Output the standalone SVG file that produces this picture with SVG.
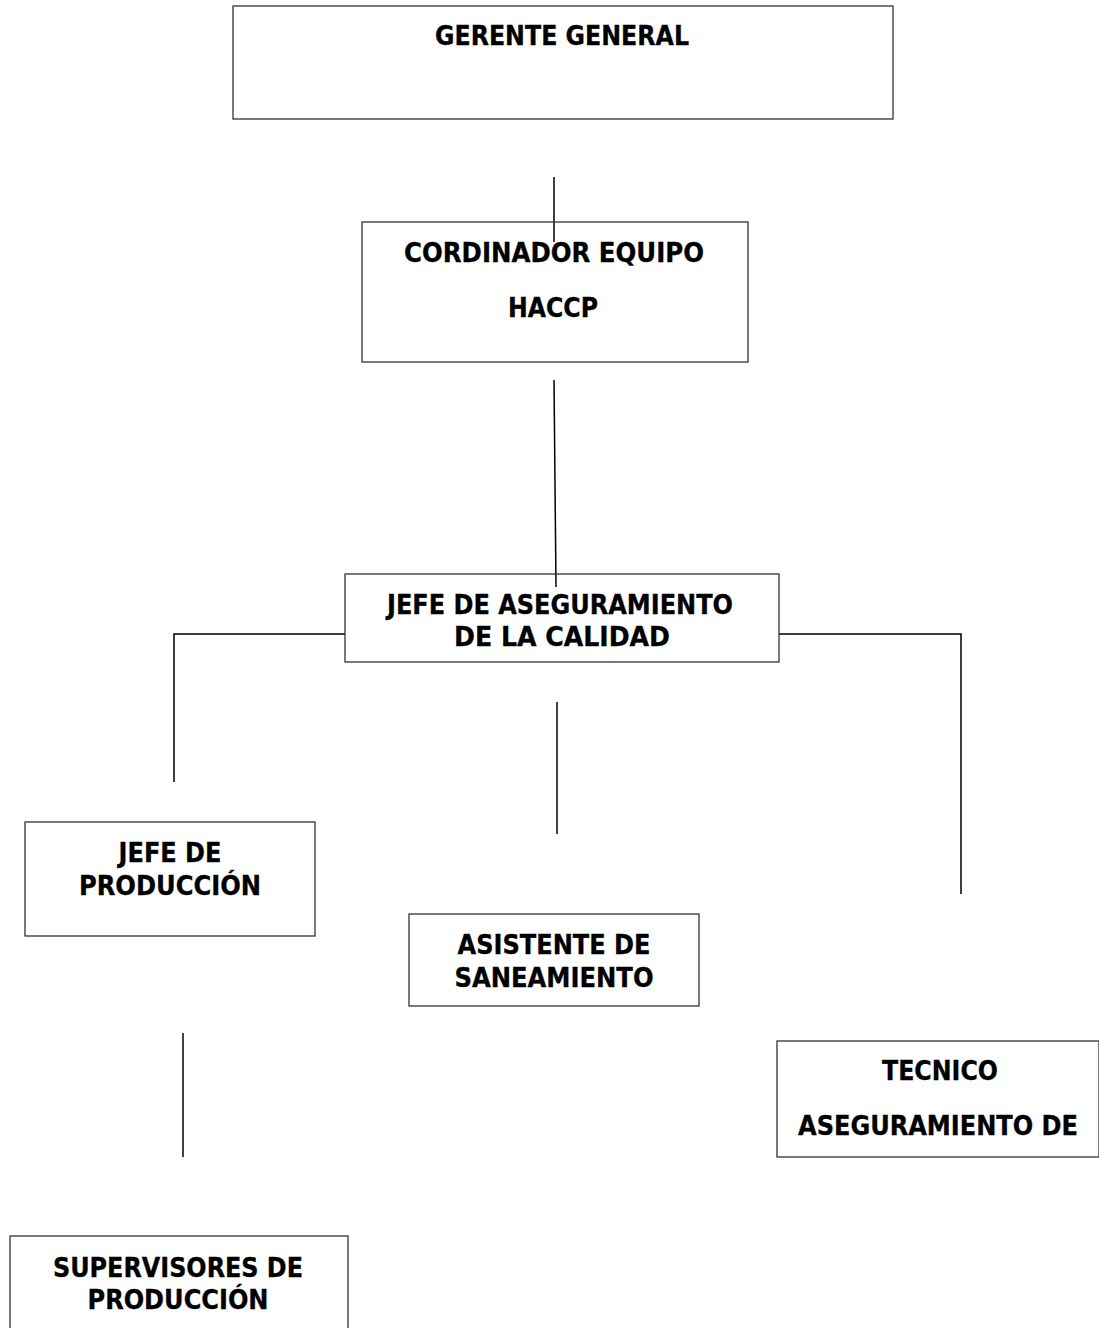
<svg xmlns="http://www.w3.org/2000/svg" width="1099" height="1328" viewBox="0 0 1099 1328">
  <style>
    .box { fill: #ffffff; stroke: #333333; stroke-width: 1.3; }
    .lbl { font-family: "DejaVu Sans", Verdana, sans-serif; font-weight: bold; font-size: 27px; fill: #000000; stroke: #000000; stroke-width: 0.35; text-anchor: middle; }
    .wire { fill: none; stroke: #000000; stroke-width: 1.5; }
  </style>
  <rect x="0" y="0" width="1099" height="1328" fill="#ffffff"/>

  <g id="connectors">
    <line class="wire" x1="554" y1="177" x2="554" y2="242"/>
    <line class="wire" x1="554" y1="380" x2="556" y2="587"/>
    <polyline class="wire" points="345,634 174,634 174,782"/>
    <polyline class="wire" points="779,634 961,634 961,894"/>
    <line class="wire" x1="557" y1="702" x2="557" y2="834"/>
    <line class="wire" x1="183" y1="1033" x2="183" y2="1157"/>
  </g>

  <g id="gerente-general">
    <rect class="box" x="233" y="6" width="660" height="113"/>
    <text class="lbl" x="562" y="45" textLength="254" lengthAdjust="spacingAndGlyphs">GERENTE GENERAL</text>
  </g>

  <g id="coordinador-haccp">
    <rect class="box" x="362" y="222" width="386" height="140" fill-opacity="0"/>
    <text class="lbl" x="554" y="262" textLength="300" lengthAdjust="spacingAndGlyphs">CORDINADOR EQUIPO</text>
    <text class="lbl" x="553" y="317" textLength="90" lengthAdjust="spacingAndGlyphs">HACCP</text>
  </g>

  <g id="jefe-aseguramiento">
    <rect class="box" x="345" y="574" width="434" height="88" fill-opacity="0"/>
    <text class="lbl" x="560" y="614" textLength="346" lengthAdjust="spacingAndGlyphs">JEFE DE ASEGURAMIENTO</text>
    <text class="lbl" x="562" y="646" textLength="216" lengthAdjust="spacingAndGlyphs">DE LA CALIDAD</text>
  </g>

  <g id="jefe-produccion">
    <rect class="box" x="25" y="822" width="290" height="114"/>
    <text class="lbl" x="170" y="862" textLength="103" lengthAdjust="spacingAndGlyphs">JEFE DE</text>
    <text class="lbl" x="170" y="895" textLength="182" lengthAdjust="spacingAndGlyphs">PRODUCCIÓN</text>
  </g>

  <g id="asistente-saneamiento">
    <rect class="box" x="409" y="914" width="290" height="92"/>
    <text class="lbl" x="554" y="954" textLength="193" lengthAdjust="spacingAndGlyphs">ASISTENTE DE</text>
    <text class="lbl" x="554" y="987" textLength="199" lengthAdjust="spacingAndGlyphs">SANEAMIENTO</text>
  </g>

  <g id="tecnico-aseguramiento">
    <!-- box runs to the right page edge -->
    <rect class="box" x="777" y="1041" width="322" height="116"/>
    <text class="lbl" x="940" y="1080" textLength="116" lengthAdjust="spacingAndGlyphs">TECNICO</text>
    <text class="lbl" x="938" y="1135" textLength="280" lengthAdjust="spacingAndGlyphs">ASEGURAMIENTO DE</text>
  </g>

  <g id="supervisores-produccion">
    <rect class="box" x="10" y="1236" width="338" height="110"/>
    <text class="lbl" x="178" y="1277" textLength="250" lengthAdjust="spacingAndGlyphs">SUPERVISORES DE</text>
    <text class="lbl" x="178" y="1309" textLength="181" lengthAdjust="spacingAndGlyphs">PRODUCCIÓN</text>
  </g>
</svg>
